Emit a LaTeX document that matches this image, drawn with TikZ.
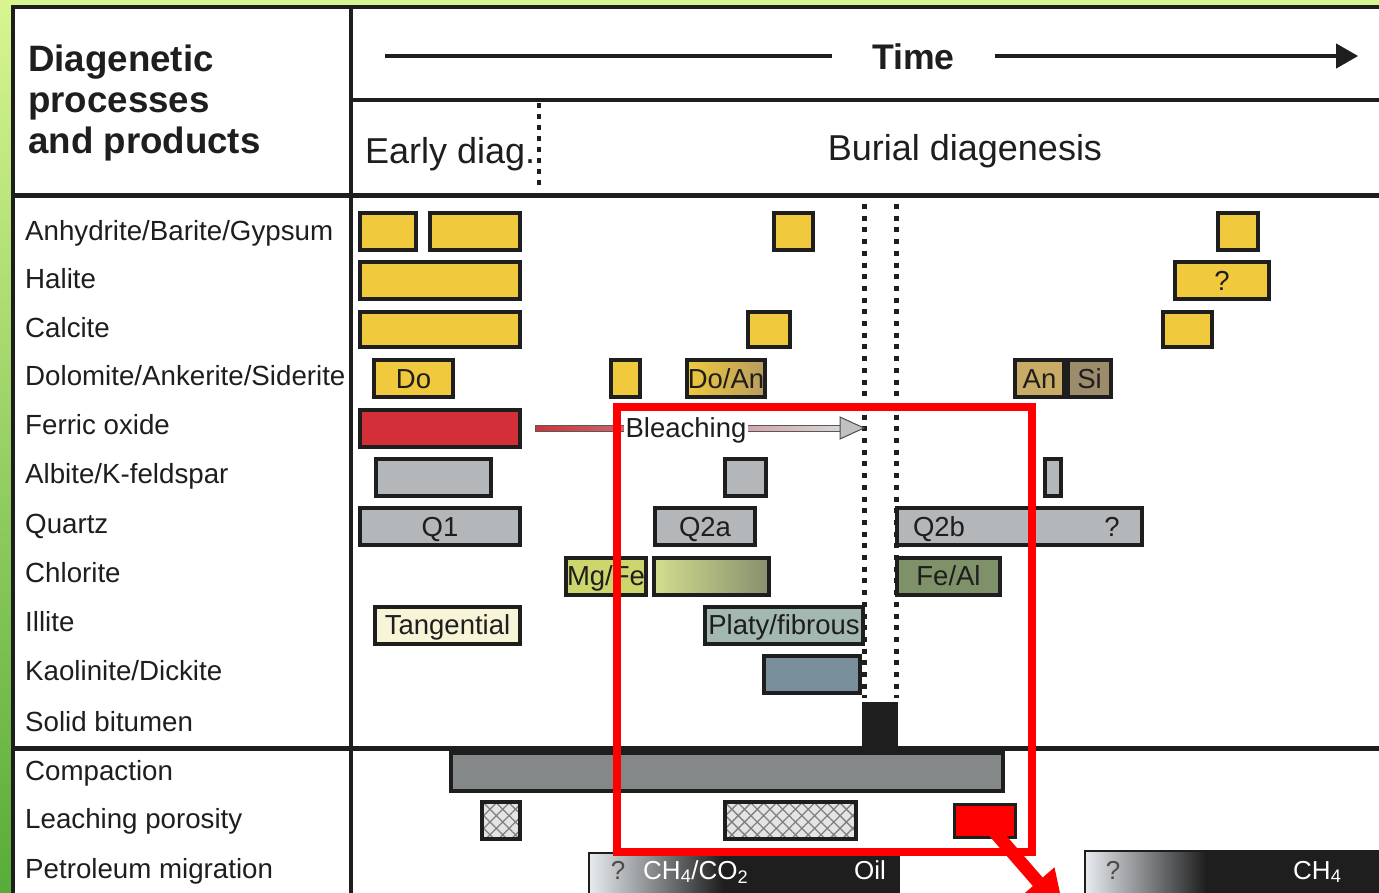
\documentclass[tikz,border=0pt]{standalone}
\usepackage{fontspec}
\setmainfont{Liberation Sans}
\usetikzlibrary{arrows.meta,patterns.meta}

\definecolor{ink}{HTML}{1E1E1E}
\definecolor{bgtop}{HTML}{D8F590}
\definecolor{bgbot}{HTML}{58AC3A}
\definecolor{yel}{HTML}{F0C93C}
\definecolor{ferric}{HTML}{D22F38}
\definecolor{qgray}{HTML}{B3B7BA}
\definecolor{doan}{HTML}{B89C5E}
\definecolor{ank}{HTML}{C9AB68}
\definecolor{sid}{HTML}{9C8C6C}
\definecolor{mgfe}{HTML}{CDD66C}
\definecolor{chlL}{HTML}{D4DD8E}
\definecolor{chlD}{HTML}{86906E}
\definecolor{feal}{HTML}{7E9168}
\definecolor{tang}{HTML}{F8F4D8}
\definecolor{platy}{HTML}{A3B8B1}
\definecolor{kaol}{HTML}{7A8F9C}
\definecolor{comp}{HTML}{858888}
\definecolor{hatchbg}{HTML}{E4E4E4}
\definecolor{petL}{HTML}{E6EAEE}
\definecolor{bleachR}{HTML}{C8363C}
\definecolor{bleachG}{HTML}{D8D6D6}
\definecolor{alert}{HTML}{FF0000}

\begin{document}
\begin{tikzpicture}
    [x=1pt, y=-1pt,
    tag/.style={inner sep=0pt, text height=19.8pt, text depth=0pt, text=ink,
        font=\fontsize{27.5}{33}\selectfont},
    bar/.style={tag, draw=ink, line width=4pt, minimum height=37pt},
    hatched/.style={bar, preaction={fill=hatchbg},
        pattern={Hatch[distance=9pt, angle=45, line width=1.3pt]}, pattern color=gray},
    lab/.style={anchor=base west, inner sep=0pt, text=ink, font=\fontsize{27.7}{33}\selectfont},
    hdr/.style={inner sep=0pt, text=ink, font=\fontsize{36}{42}\selectfont},
    pettext/.style={anchor=base, inner sep=0pt, font=\fontsize{26}{30}\selectfont},
    rule/.style={ink, line width=4.5pt},
    dotline/.style={ink, line width=5pt, dash pattern=on 5pt off 6.7pt},
    timeline/.style={ink, line width=4pt}]

        \useasboundingbox (0,0) rectangle (1379,892);
        \clip (0,0) rectangle (1379,892);
        \shade[top color=bgtop, bottom color=bgbot] (0,0) rectangle (1379,892);
        \fill[white] (13,7) rectangle (1390,900);

        \draw[rule, line join=miter] (13,900) -- (13,7) -- (1390,7);
        \draw[rule, line width=4pt] (351,7) -- (351,900);
        \draw[rule, line width=4pt] (351,100) -- (1390,100);
        \draw[rule, line width=5.5pt] (13,195.5) -- (1390,195.5);
        \draw[rule, line width=5pt] (13,748.5) -- (1390,748.5);

        \node[anchor=north west, inner sep=0pt, align=left, text=ink,
            font=\fontsize{36.7}{41}\selectfont\bfseries] (title) at (28,45)
            {Diagenetic\\processes\\and products};

        \coordinate (tl) at (385,56);
        \coordinate (tr) at (1358,56);
        \node[hdr, font=\fontsize{35.6}{42}\selectfont\bfseries, inner xsep=40pt,
            text height=25.5pt, text depth=0pt] (time) at (913.5,57) {Time};
        \draw[timeline] (tl) to (time.west |- tl);
        \draw[timeline, -{Triangle[length=22pt, width=25pt, line width=1pt]}] (time.east |- tr) to (tr);

        \node[hdr, anchor=base west] (early) at (365,163) {Early diag.};
        \node[hdr, anchor=base] (burial) at (965,160) {Burial diagenesis};
        \draw[dotline, line width=4pt, dash pattern=on 4.5pt off 6.5pt] (539,103) -- (539,191);

        \node[lab] (anh) at (25,240) {Anhydrite/Barite/Gypsum};
        \node[lab] (hal) at (25,288.5) {Halite};
        \node[lab] (cal) at (25,337) {Calcite};
        \node[lab] (dol) at (25,385.5) {Dolomite/Ankerite/Siderite};
        \node[lab] (fer) at (25,434.5) {Ferric oxide};
        \node[lab] (alb) at (25,483.5) {Albite/K-feldspar};
        \node[lab] (qtz) at (25,533) {Quartz};
        \node[lab] (chl) at (25,582) {Chlorite};
        \node[lab] (ill) at (25,631.5) {Illite};
        \node[lab] (kao) at (25,680) {Kaolinite/Dickite};
        \node[lab] (bit) at (25,731) {Solid bitumen};
        \node[lab] (cmp) at (25,780) {Compaction};
        \node[lab] (lch) at (25,828.5) {Leaching porosity};
        \node[lab] (pet) at (25,878) {Petroleum migration};

        \draw[dotline] (864,204) -- (864,698);
        \draw[dotline] (896,204) -- (896,698);

        \node[bar, fill=yel, minimum width=56] (anh1) at (388,231.5) {};
        \node[bar, fill=yel, minimum width=90] (anh2) at (475,231.5) {};
        \node[bar, fill=yel, minimum width=39] (anh3) at (793.5,231.5) {};
        \node[bar, fill=yel, minimum width=40] (anh4) at (1238,231.5) {};

        \node[bar, fill=yel, minimum width=160] (hal1) at (440,280.5) {};
        \node[bar, fill=yel, minimum width=94] (hal2) at (1222,280.5) {?};

        \node[bar, fill=yel, minimum width=160, minimum height=35] (cal1) at (440,329.5) {};
        \node[bar, fill=yel, minimum width=42, minimum height=35] (cal2) at (769,329.5) {};
        \node[bar, fill=yel, minimum width=49, minimum height=35] (cal3) at (1187.5,329.5) {};

        \node[bar, fill=yel, minimum width=79] (dol1) at (413.5,378.5) {Do};
        \node[bar, fill=yel, minimum width=29] (dol2) at (625.5,378.5) {};
        \node[bar, left color=yel, right color=doan, minimum width=78] (dol3) at (726,378.5) {Do/An};
        \node[bar, fill=ank, minimum width=49] (dol4) at (1039.5,378.5) {An};
        \node[bar, fill=sid, minimum width=43] (dol5) at (1089.5,378.5) {Si};

        \node[bar, fill=ferric, minimum width=160] (fer1) at (440,428) {};

        \node[bar, fill=qgray, minimum width=115] (alb1) at (433.5,477) {};
        \node[bar, fill=qgray, minimum width=41] (alb2) at (745.5,477) {};
        \node[bar, fill=qgray, minimum width=16] (alb3) at (1053,477) {};

        \node[bar, fill=qgray, minimum width=160] (qz1) at (440,526.5) {Q1};
        \node[bar, fill=qgray, minimum width=100] (qz2) at (705,526.5) {Q2a};
        \node[bar, fill=qgray, minimum width=245] (qz3) at (1019.5,526.5) {};
        \node[tag] (q2b) at (939,526.5) {Q2b};
        \node[tag] (q2bq) at (1112,526.5) {?};

        \node[bar, fill=mgfe, minimum width=80] (chl1) at (606,576) {Mg/Fe};
        \node[bar, left color=chlL, middle color=chlL!85!chlD, right color=chlD,
            minimum width=115] (chl2) at (711.5,576) {};
        \node[bar, fill=feal, minimum width=103] (chl3) at (948.5,576) {Fe/Al};

        \node[bar, fill=tang, minimum width=145] (ill1) at (447.5,625) {Tangential};
        \node[bar, fill=platy, minimum width=158] (ill2) at (784,625) {Platy/fibrous};

        \node[bar, fill=kaol, minimum width=96] (kao1) at (812,674.5) {};

        \node[fill=ink, inner sep=0pt, minimum width=36, minimum height=47] (bit1) at (880,725) {};

        \node[bar, fill=comp, minimum width=552, minimum height=38] (cmp1) at (727,772) {};

        \node[hatched, minimum width=38] (lch1) at (501,820.5) {};
        \node[hatched, minimum width=131] (lch2) at (790.5,820.5) {};
        \node[bar, fill=alert, line width=3pt, minimum width=61, minimum height=33] (lch3) at (985,821) {};

        \node[bar, anchor=north west, fill=ink, minimum width=308, minimum height=50] (pet1) at (588,852) {};
        \shade[left color=petL, right color=ink]
            ([shift={(2pt,-2pt)}]pet1.north west) rectangle ([xshift=135pt]pet1.south west);
        \node[bar, anchor=north west, fill=ink, minimum width=291, minimum height=50] (pet2) at (1084,850) {};
        \shade[left color=petL, right color=ink]
            ([shift={(2pt,-2pt)}]pet2.north west) rectangle ([xshift=122pt]pet2.south west);
        \node[pettext, text=ink!80] (pq1) at (618,879) {?};
        \node[pettext, anchor=base west, text=white] (pgas) at (643,879) {CH\textsubscript{4}/CO\textsubscript{2}};
        \node[pettext, anchor=base east, text=white] (poil) at (886,879) {Oil};
        \node[pettext, text=ink!80] (pq2) at (1113,879) {?};
        \node[pettext, anchor=base west, text=white] (pch4) at (1293,879) {CH\textsubscript{4}};

        \coordinate (btip) at (864,428);
        \shadedraw[left color=bleachR, right color=bleachG, draw=gray!70!black, line width=0.8pt]
            ([xshift=13pt, yshift=3pt]fer1.east) rectangle ([xshift=-24pt, yshift=-3pt]btip);
        \filldraw[fill=bleachG!90!black, draw=gray!60!black, line width=1pt]
            ([xshift=-24pt, yshift=11pt]btip) -- (btip) -- ([xshift=-24pt, yshift=-11pt]btip) -- cycle;
        \node[tag, fill=white, inner xsep=2pt, inner ysep=4pt] (bleach) at (686,428) {Bleaching};

        \draw[alert, line width=8pt] (617,407) rectangle (1032,852);
        \coordinate (rtip) at (1064,912);
        \draw[alert, line width=13pt, -{Triangle[length=40pt, width=44pt, line width=1pt]}] (lch3.center) -- (rtip);
   \end{tikzpicture}
\end{document}
